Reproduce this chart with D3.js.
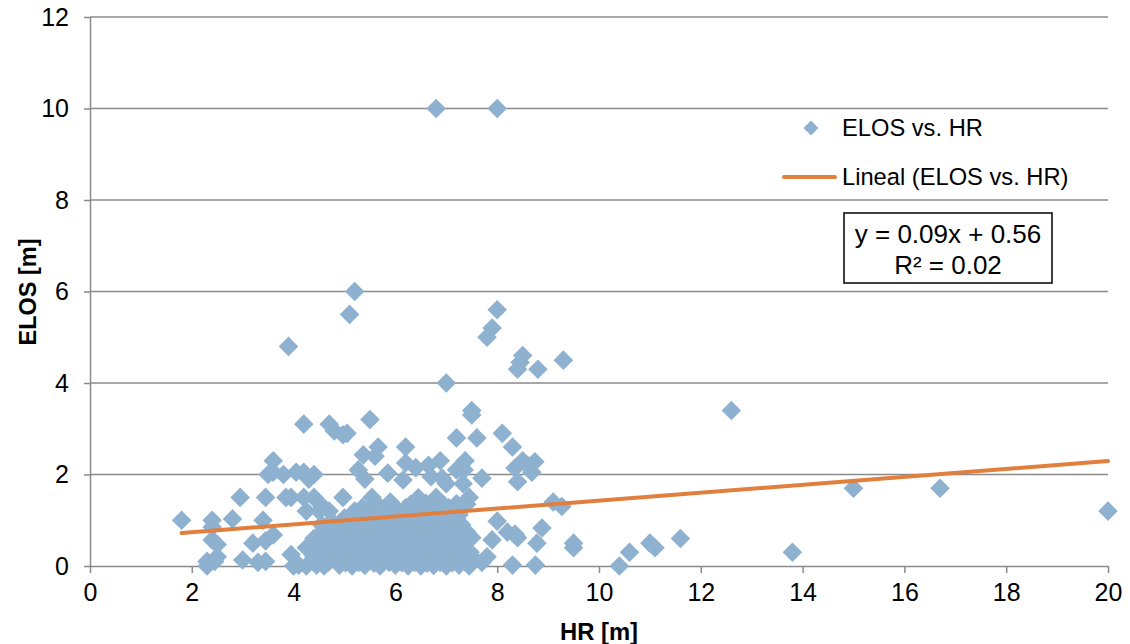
<!DOCTYPE html>
<html><head><meta charset="utf-8">
<script src="https://cdn.jsdelivr.net/npm/d3@7"></script>
<style>
body{margin:0;background:#fff}
svg{display:block}
text{font-family:"Liberation Sans",Arial,sans-serif;fill:#000}
</style>
</head><body>
<svg id="chart" width="1130" height="644"></svg>
<script>
// ---- data ----
const xTicks = [0, 2, 4, 6, 8, 10, 12, 14, 16, 18, 20];
const yTicks = [0, 2, 4, 6, 8, 10, 12];
const xTitle = "HR [m]";
const yTitle = "ELOS [m]";
const legendLabels = ["ELOS vs. HR", "Lineal (ELOS vs. HR)"];
const equationLines = ["y = 0.09x + 0.56", "R² = 0.02"];
const trendSlope = 0.0865;
const trendIntercept = 0.564;
const trendRange = [1.8, 20];

// [HR, ELOS] pairs
const elosVsHr = [
  [6.8,10],[8.0,10],
  [5.2,6.0],[5.1,5.5],[3.9,4.8],
  [8.0,5.6],[7.9,5.2],[7.8,5.0],
  [8.5,4.6],[8.45,4.45],[8.4,4.3],[8.8,4.3],[9.3,4.5],
  [7.0,4.0],[12.6,3.4],[7.5,3.4],[7.5,3.3],[5.5,3.2],[4.2,3.1],[4.7,3.1],[4.8,2.95],[4.97,2.87],[5.05,2.9],
  [8.1,2.9],[7.2,2.8],[7.6,2.8],[8.3,2.6],[6.2,2.6],[5.66,2.6],[5.6,2.4],[5.37,2.43],
  [3.6,2.3],[6.88,2.3],[7.37,2.3],[8.74,2.28],[8.5,2.3],[8.6,2.2],[8.35,2.14],[6.2,2.25],[6.4,2.15],[6.65,2.2],[7.27,2.14],[7.35,2.1],[7.2,2.1],
  [3.5,2.0],[3.6,2.05],[3.8,2.0],[4.05,2.05],[4.4,2.0],[4.2,2.05],[4.3,1.9],[5.27,2.1],[5.85,2.03],[8.68,2.05],[8.4,1.84],[7.7,1.92],[6.15,1.88],[6.92,1.92],[7.33,1.8],[5.4,1.9],[6.7,1.95],[7.0,1.8],
  [2.95,1.5],[3.45,1.5],[3.85,1.5],[3.95,1.5],[4.2,1.5],[4.4,1.5],[4.97,1.5],[5.54,1.5],[5.6,1.4],[6.45,1.49],[6.8,1.5],[7.45,1.5],[9.1,1.4],[9.27,1.3],[15.0,1.7],[16.7,1.7],[4.25,1.2],[4.5,1.38],[4.5,1.2],[4.7,1.2],[5.9,1.4],[7.4,1.35],[8.0,0.98],[6.4,1.3],
  [1.8,1.0],[2.4,1.0],[2.8,1.03],[3.4,1.0],[2.4,0.85],[3.6,0.68],[3.45,0.55],[3.2,0.5],[4.6,0.8],
  [20.0,1.2],[11.6,0.6],[11.0,0.5],[11.1,0.4],[9.5,0.5],[9.5,0.4],[10.6,0.3],[13.8,0.3],[10.4,0.0],
  [8.88,0.83],[8.2,0.74],[8.35,0.7],[8.78,0.5],[8.4,0.62],[8.75,0.02],[8.3,0.02],[7.9,0.57],[7.8,0.2],[7.7,0.08],[7.47,0.3],
  [2.3,0.1],[2.3,0.0],[2.45,0.1],[2.5,0.2],[2.4,0.57],[2.5,0.47],[3.0,0.13],[3.3,0.08],[3.45,0.1],[3.95,0.25],[4.0,0.0],[4.1,0.02],[4.25,0.4],[4.25,0.0],[4.4,0.2],[4.45,0.02],
  // dense cluster
  [4.6,0.0],[4.9,0.02],[5.15,0.0],[5.4,0.01],[5.7,0.0],[6.0,0.02],[6.25,0.0],[6.5,0.0],[6.75,0.01],[7.0,0.0],[7.25,0.02],[7.45,0.0],
  [4.75,0.15],[5.05,0.17],[5.3,0.14],[5.55,0.16],[5.85,0.15],[6.1,0.18],[6.4,0.14],[6.65,0.16],[6.9,0.15],[7.15,0.17],[7.35,0.14],
  [4.5,0.3],[4.8,0.32],[5.0,0.28],[5.25,0.31],[5.5,0.3],[5.8,0.29],[6.05,0.33],[6.3,0.3],[6.55,0.28],[6.85,0.31],[7.1,0.3],[7.4,0.29],
  [4.65,0.45],[4.95,0.47],[5.2,0.44],[5.45,0.46],[5.7,0.45],[5.95,0.43],[6.2,0.47],[6.5,0.45],[6.75,0.44],[7.0,0.46],[7.3,0.45],
  [4.4,0.6],[4.7,0.62],[5.05,0.59],[5.35,0.61],[5.6,0.6],[5.9,0.58],[6.15,0.62],[6.4,0.6],[6.7,0.61],[6.95,0.59],[7.2,0.6],[7.5,0.62],
  [4.8,0.75],[5.1,0.77],[5.3,0.74],[5.65,0.76],[5.85,0.75],[6.1,0.73],[6.35,0.77],[6.6,0.75],[6.9,0.74],[7.15,0.76],[7.4,0.75],
  [4.55,0.9],[4.9,0.92],[5.15,0.89],[5.45,0.91],[5.75,0.9],[6.0,0.88],[6.3,0.92],[6.55,0.9],[6.8,0.91],[7.05,0.89],[7.3,0.9],
  [5.0,1.05],[5.3,1.07],[5.6,1.04],[5.95,1.06],[6.25,1.05],[6.5,1.03],[6.75,1.07],[7.0,1.05],[7.2,1.04],
  [5.2,1.2],[5.5,1.22],[5.8,1.19],[6.05,1.21],[6.6,1.2],[6.85,1.18],[7.1,1.22],
  [6.3,1.35],[6.6,1.37],[6.95,1.34],[7.2,1.36],
  [4.68,0.08],[5.02,0.07],[5.28,0.08],[5.58,0.06],[5.88,0.08],[6.13,0.07],[6.38,0.08],[6.62,0.06],[6.88,0.08],[7.12,0.07],[7.38,0.08],
  [4.62,0.22],[4.88,0.24],[5.15,0.23],[5.42,0.22],[5.7,0.24],[5.97,0.23],[6.22,0.22],[6.47,0.24],[6.75,0.23],[7.0,0.22],[7.25,0.24],[7.5,0.2],
  [4.58,0.38],[4.88,0.39],[5.12,0.37],[5.37,0.38],[5.62,0.39],[5.9,0.37],[6.15,0.38],[6.42,0.39],[6.68,0.37],[6.95,0.38],[7.2,0.37],
  [4.55,0.52],[4.82,0.54],[5.1,0.53],[5.33,0.52],[5.58,0.54],[5.82,0.53],[6.08,0.52],[6.33,0.54],[6.6,0.53],[6.87,0.52],[7.12,0.54],[7.4,0.52],
  [4.6,0.68],[4.92,0.69],[5.18,0.67],[5.48,0.68],[5.75,0.69],[6.0,0.67],[6.25,0.68],[6.5,0.69],[6.8,0.67],[7.05,0.68],[7.3,0.69],
  [4.7,0.84],[5.0,0.83],[5.25,0.84],[5.55,0.82],[5.85,0.84],[6.15,0.83],[6.42,0.84],[6.7,0.82],[6.95,0.84],[7.22,0.83],
  [4.75,0.98],[5.08,0.99],[5.4,0.97],[5.7,0.98],[6.1,0.99],[6.38,0.97],[6.62,0.98],[6.9,0.99],[7.12,0.97],
  [5.15,1.13],[5.45,1.12],[5.75,1.14],[6.15,1.13],[6.45,1.12],[6.72,1.14],[6.98,1.13],[7.25,1.12],
  [5.35,1.28],[6.2,1.27],[6.75,1.28],[7.05,1.27]
];

// ---- drawing ----
const svg = d3.select("#chart");
const x = d3.scaleLinear().domain([0, 20]).range([90, 1108]);
const y = d3.scaleLinear().domain([0, 12]).range([566, 17]);
const gridColor = "#8a8a8a";
const pointColor = "#8fb1d0";
const trendColor = "#e07f3e";

// horizontal gridlines
svg.append("g").selectAll("line").data(yTicks.filter(d => d > 0)).join("line")
  .attr("x1", x(0)).attr("x2", x(20))
  .attr("y1", d => y(d)).attr("y2", d => y(d))
  .attr("stroke", gridColor).attr("stroke-width", 1.5);

// x axis
const xAxis = svg.append("g").attr("transform", `translate(0,${y(0)})`)
  .call(d3.axisBottom(x).tickValues(xTicks).tickSizeInner(7).tickSizeOuter(0).tickPadding(10));
xAxis.select(".domain").attr("stroke", gridColor).attr("stroke-width", 1.5);
xAxis.selectAll(".tick line").attr("stroke", gridColor).attr("stroke-width", 1.5);
xAxis.selectAll(".tick text").attr("font-size", 25).attr("font-family", "Liberation Sans, Arial, sans-serif").attr("fill", "#000");

// y axis
const yAxis = svg.append("g").attr("transform", `translate(${x(0)},0)`)
  .call(d3.axisLeft(y).tickValues(yTicks).tickSizeInner(6).tickSizeOuter(0).tickPadding(15));
yAxis.select(".domain").attr("stroke", gridColor).attr("stroke-width", 1.5);
yAxis.selectAll(".tick line").attr("stroke", gridColor).attr("stroke-width", 1.5);
yAxis.selectAll(".tick text").attr("font-size", 25).attr("font-family", "Liberation Sans, Arial, sans-serif").attr("fill", "#000");

// points (diamonds)
const diamond = r => `M0,${-r}L${r},0L0,${r}L${-r},0Z`;
svg.append("g").selectAll("path").data(elosVsHr).join("path")
  .attr("d", diamond(9.8))
  .attr("transform", d => `translate(${x(d[0])},${y(d[1])})`)
  .attr("fill", pointColor);

// trend line
const trend = trendRange.map(v => [v, trendSlope * v + trendIntercept]);
svg.append("path").datum(trend)
  .attr("d", d3.line().x(d => x(d[0])).y(d => y(d[1])))
  .attr("stroke", trendColor).attr("stroke-width", 4).attr("fill", "none").attr("stroke-linecap", "round");

// axis titles
svg.append("text").attr("x", 599).attr("y", 640).attr("text-anchor", "middle")
  .attr("font-size", 23.8).attr("font-weight", "bold").text(xTitle);
svg.append("text").attr("transform", "translate(36,292) rotate(-90)").attr("text-anchor", "middle")
  .attr("font-size", 23.5).attr("font-weight", "bold").text(yTitle);

// legend
const lg = svg.append("g");
lg.append("path").attr("d", diamond(7.5)).attr("transform", "translate(811,128)").attr("fill", pointColor);
lg.append("text").attr("x", 842).attr("y", 136).attr("font-size", 23.7).text(legendLabels[0]);
lg.append("line").attr("x1", 784).attr("x2", 835).attr("y1", 177).attr("y2", 177)
  .attr("stroke", trendColor).attr("stroke-width", 4).attr("stroke-linecap", "round");
lg.append("text").attr("x", 842).attr("y", 185).attr("font-size", 23.7).text(legendLabels[1]);

// equation box
const eq = svg.append("g");
eq.append("rect").attr("x", 844).attr("y", 213).attr("width", 208).attr("height", 70)
  .attr("fill", "#fff").attr("stroke", "#000").attr("stroke-width", 1.5);
eq.selectAll("text").data(equationLines).join("text")
  .attr("x", 948).attr("y", (d, i) => 243 + i * 31).attr("text-anchor", "middle")
  .attr("font-size", 26).text(d => d);
</script>
</body></html>
